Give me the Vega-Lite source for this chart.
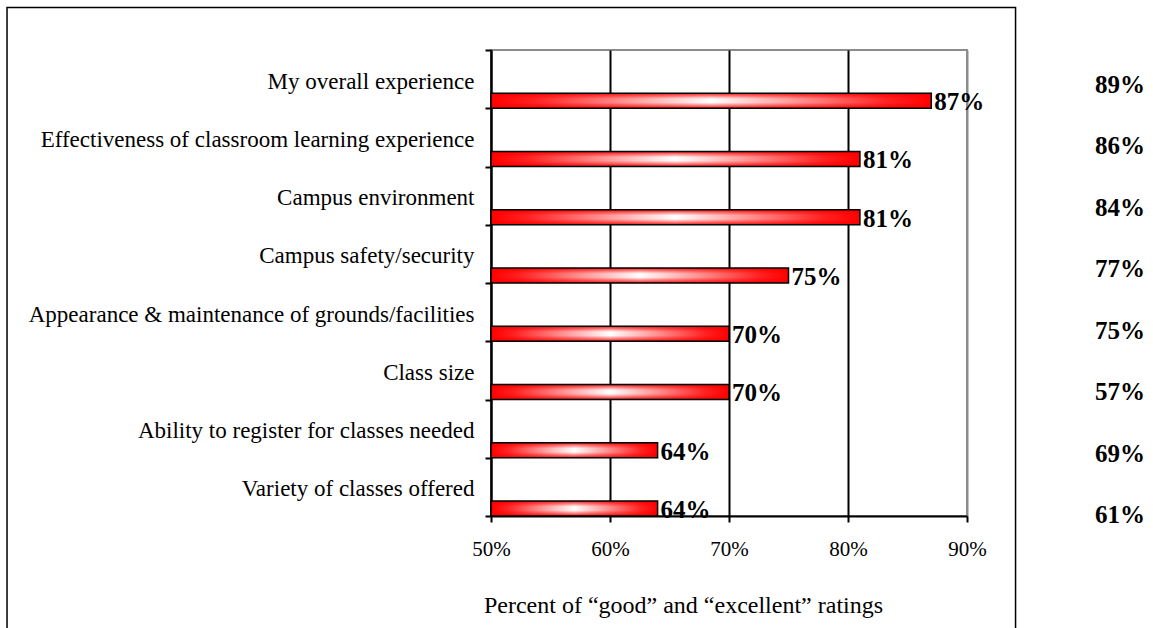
{
  "$schema": "https://vega.github.io/schema/vega-lite/v6.json",
  "width": 476,
  "height": 466,
  "autosize": "none",
  "padding": {"left": 491, "top": 50, "right": 186, "bottom": 112},
  "background": "white",
  "config": {
    "view": {"stroke": "#8c8c8c", "strokeWidth": 2},
    "font": "Liberation Serif"
  },
  "data": {
    "values": [
      {"cat": "My overall experience", "value": 87, "valueLabel": "87%", "prior": 89, "priorLabel": "89%"},
      {"cat": "Effectiveness of classroom learning experience", "value": 81, "valueLabel": "81%", "prior": 86, "priorLabel": "86%"},
      {"cat": "Campus environment", "value": 81, "valueLabel": "81%", "prior": 84, "priorLabel": "84%"},
      {"cat": "Campus safety/security", "value": 75, "valueLabel": "75%", "prior": 77, "priorLabel": "77%"},
      {"cat": "Appearance & maintenance of grounds/facilities", "value": 70, "valueLabel": "70%", "prior": 75, "priorLabel": "75%"},
      {"cat": "Class size", "value": 70, "valueLabel": "70%", "prior": 57, "priorLabel": "57%"},
      {"cat": "Ability to register for classes needed", "value": 64, "valueLabel": "64%", "prior": 69, "priorLabel": "69%"},
      {"cat": "Variety of classes offered", "value": 64, "valueLabel": "64%", "prior": 61, "priorLabel": "61%"}
    ]
  },
  "layer": [
    {
      "encoding": {
        "y": {
          "field": "cat",
          "type": "nominal",
          "sort": null,
          "scale": {"paddingInner": 0, "paddingOuter": 0},
          "axis": {
            "title": null,
            "tickBand": "extent",
            "domainColor": "black",
            "domainWidth": 2,
            "tickColor": "black",
            "tickWidth": 2,
            "tickSize": 6,
            "labelFont": "Liberation Serif",
            "labelFontSize": 23,
            "labelColor": "black",
            "labelPadding": 11,
            "labelBaseline": "alphabetic",
            "labelOffset": 9,
            "labelLimit": 0,
            "grid": false
          }
        }
      },
      "layer": [
        {
          "mark": {
            "type": "bar",
            "height": {"band": 0.2575},
            "yOffset": 21.6,
            "strokeWidth": 0,
            "fill": {
              "gradient": "linear",
              "x1": 0, "y1": 0, "x2": 1, "y2": 0,
              "stops": [
                {"offset": 0, "color": "#ff0000"},
                {"offset": 0.1, "color": "#ff2222"},
                {"offset": 0.5, "color": "#ffffff"},
                {"offset": 0.9, "color": "#ff2222"},
                {"offset": 1, "color": "#ff0000"}
              ]
            }
          },
          "encoding": {
            "x": {
              "field": "value",
              "type": "quantitative",
              "scale": {"domain": [50, 90], "zero": false, "nice": false},
              "axis": {
                "values": [50, 60, 70, 80, 90],
                "labelExpr": "datum.value + '%'",
                "labelFlush": false,
                "labelOverlap": false,
                "grid": true,
                "gridColor": {"condition": {"test": "datum.value >= 90", "value": "#8c8c8c"}, "value": "black"},
                "gridWidth": 2,
                "domainColor": "black",
                "domainWidth": 2,
                "tickColor": "black",
                "tickWidth": 2,
                "tickSize": 6,
                "labelFont": "Liberation Serif",
                "labelFontSize": 21,
                "labelColor": "black",
                "labelBaseline": "alphabetic",
                "labelPadding": 33,
                "title": "Percent of “good” and “excellent” ratings",
                "titleFont": "Liberation Serif",
                "titleFontSize": 24,
                "titleFontWeight": "normal",
                "titleColor": "black",
                "titleAlign": "center",
                "titleAnchor": "start",
                "titleX": 192,
                "titleY": 96,
                "titleBaseline": "alphabetic"
              }
            },
            "x2": {"datum": 50}
          }
        },
        {
          "mark": {
            "type": "bar",
            "height": {"band": 0.2575},
            "yOffset": 21.6,
            "stroke": "black",
            "strokeWidth": 1.5,
            "fill": {
              "gradient": "linear",
              "x1": 0, "y1": 0, "x2": 0, "y2": 1,
              "stops": [
                {"offset": 0, "color": "rgba(240,0,0,0.9)"},
                {"offset": 0.38, "color": "rgba(255,0,0,0)"},
                {"offset": 0.62, "color": "rgba(255,0,0,0)"},
                {"offset": 1, "color": "rgba(240,0,0,0.9)"}
              ]
            }
          },
          "encoding": {
            "x": {"field": "value", "type": "quantitative"},
            "x2": {"datum": 50}
          }
        },
        {
          "mark": {
            "type": "text",
            "align": "left",
            "baseline": "alphabetic",
            "dx": 3,
            "dy": 31,
            "font": "Liberation Serif",
            "fontSize": 25,
            "fontWeight": "bold",
            "color": "black"
          },
          "encoding": {
            "x": {"field": "value", "type": "quantitative"},
            "text": {"field": "valueLabel"}
          }
        }
      ]
    },
    {
      "mark": {
        "type": "text",
        "align": "right",
        "baseline": "alphabetic",
        "font": "Liberation Serif",
        "fontSize": 25,
        "fontWeight": "bold",
        "color": "black"
      },
      "encoding": {
        "y": {
          "field": "cat",
          "type": "nominal",
          "sort": null,
          "scale": {"range": [12.3, 503.7], "paddingInner": 0, "paddingOuter": 0},
          "axis": null
        },
        "x": {"datum": 104.96, "type": "quantitative"},
        "text": {"field": "priorLabel"}
      }
    },
    {
      "data": {"values": [{"frame": "outer"}]},
      "mark": {"type": "rect", "fill": null, "fillOpacity": 0, "stroke": "black", "strokeWidth": 1.5},
      "encoding": {
        "x": {"datum": 9.33, "type": "quantitative"},
        "x2": {"datum": 94.08},
        "y": {"datum": 1.0912, "type": "quantitative", "scale": {"domain": [0, 1], "zero": false, "nice": false}, "axis": null},
        "y2": {"datum": -0.3}
      }
    }
  ],
  "resolve": {"scale": {"y": "independent"}}
}
